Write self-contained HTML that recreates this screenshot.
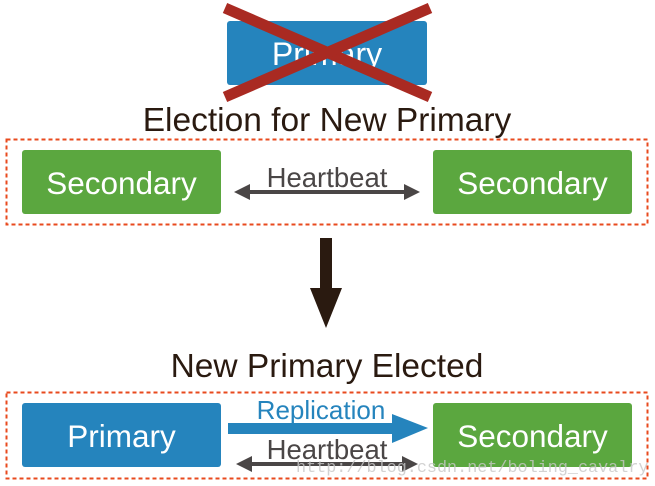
<!DOCTYPE html>
<html><head><meta charset="utf-8"><style>
html,body{margin:0;padding:0;background:#fff;width:655px;height:486px;overflow:hidden}
svg{display:block}
</style></head><body>
<svg width="655" height="486" viewBox="0 0 655 486" xmlns="http://www.w3.org/2000/svg" font-family="Liberation Sans, sans-serif">
<rect x="227" y="21" width="200" height="64" rx="3" fill="#2584bd"/>
<text x="327" y="65" font-size="32" fill="#fff" text-anchor="middle">Primary</text>
<line x1="225" y1="8" x2="430" y2="97" stroke="#a92a22" stroke-width="11"/>
<line x1="430" y1="8" x2="225" y2="97" stroke="#a92a22" stroke-width="11"/>
<text x="327" y="131" font-size="33.5" fill="#2a1a10" text-anchor="middle">Election for New Primary</text>
<rect x="6.5" y="139.5" width="641" height="85" fill="none" stroke="#e84a1e" stroke-width="2" stroke-dasharray="4,3"/>
<rect x="22" y="150" width="199" height="64" rx="3" fill="#5ba73f"/>
<text x="121.5" y="194" font-size="31.5" fill="#fff" text-anchor="middle">Secondary</text>
<rect x="433" y="150" width="199" height="64" rx="3" fill="#5ba73f"/>
<text x="532.5" y="194" font-size="31.5" fill="#fff" text-anchor="middle">Secondary</text>
<text x="327" y="187" font-size="27.5" fill="#4a4646" text-anchor="middle">Heartbeat</text>
<line x1="248" y1="192" x2="406" y2="192" stroke="#4a4646" stroke-width="4"/>
<polygon points="234,192 250,184 250,200" fill="#4a4646"/>
<polygon points="420,192 404,184 404,200" fill="#4a4646"/>
<rect x="320" y="238" width="12" height="52" fill="#2a1a10"/>
<polygon points="310,288 342,288 326,328" fill="#2a1a10"/>
<text x="327" y="377" font-size="33.5" fill="#2a1a10" text-anchor="middle">New Primary Elected</text>
<rect x="6.5" y="392.5" width="641" height="86" fill="none" stroke="#e84a1e" stroke-width="2" stroke-dasharray="4,3"/>
<rect x="22" y="403" width="199" height="64" rx="3" fill="#2584bd"/>
<text x="121.5" y="447" font-size="31.5" fill="#fff" text-anchor="middle">Primary</text>
<rect x="433" y="403" width="199" height="64" rx="3" fill="#5ba73f"/>
<text x="532.5" y="447" font-size="31.5" fill="#fff" text-anchor="middle">Secondary</text>
<text x="321" y="419" font-size="26" fill="#2584bd" text-anchor="middle">Replication</text>
<rect x="228" y="423" width="168" height="11" fill="#2584bd"/>
<polygon points="392,414 428,428 392,443" fill="#2584bd"/>
<text x="327" y="459" font-size="27.5" fill="#4a4646" text-anchor="middle">Heartbeat</text>
<line x1="250" y1="464" x2="404" y2="464" stroke="#4a4646" stroke-width="4"/>
<polygon points="236,464 252,456 252,472" fill="#4a4646"/>
<polygon points="418,464 402,456 402,472" fill="#4a4646"/>
<text x="296" y="472" style="font-family:'Liberation Mono',monospace;font-size:16.8px" fill="#c8c8c8" opacity="0.8">http://blog.csdn.net/boling_cavalry</text>
</svg>
</body></html>
